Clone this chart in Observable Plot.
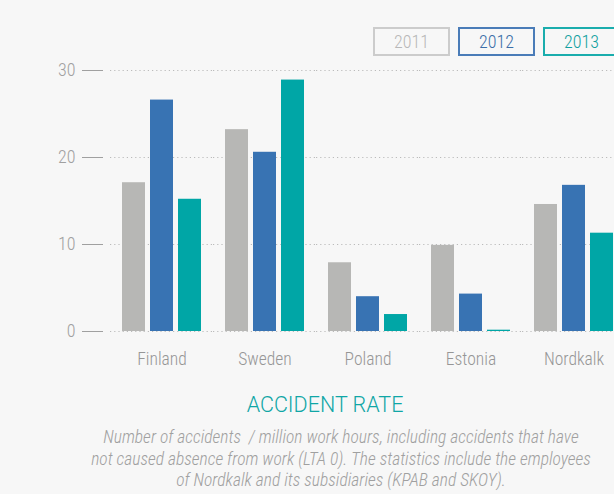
<!DOCTYPE html>
<html>
<head>
<meta charset="utf-8">
<script src="https://cdn.jsdelivr.net/npm/d3@7"></script>
<script src="https://cdn.jsdelivr.net/npm/@observablehq/plot@0.6"></script>
<style>
  html, body { margin: 0; padding: 0; background: #f7f7f7; overflow: hidden; }
  #page { position: relative; width: 614px; height: 494px; overflow: hidden; background: #f7f7f7; }
  #chart { position: absolute; left: 0; top: 0; }
  #chart svg { max-width: none !important; }
  .leg { position: absolute; top: 27px; width: 77px; height: 29px; box-sizing: border-box;
         border: 2px solid; font: 300 18px "Roboto Condensed", sans-serif;
         display: flex; align-items: center; justify-content: center; }
  #title { position: absolute; left: 0; width: 650px; top: 392px; text-align: center;
           font: 300 21.5px "Roboto", sans-serif; color: #10a6a6; }
  #caption { position: absolute; left: 0; width: 682px; top: 427px; text-align: center; white-space: pre;
             font: italic 300 17.5px/21.7px "Roboto Condensed", sans-serif; color: #a0a0a0; }
</style>
</head>
<body>
<div id="page">
  <div id="chart"></div>
  <div id="legend"></div>
  <div id="title"></div>
  <div id="caption"></div>
</div>
<script>
const countries = ["Finland", "Sweden", "Poland", "Estonia", "Nordkalk"];
const years = ["2011", "2012", "2013"];
const v2011 = [17.1, 23.2, 7.9, 9.9, 14.6];
const v2012 = [26.6, 20.6, 4.0, 4.3, 16.8];
const v2013 = [15.2, 28.9, 1.95, 0.15, 11.3];
const barColors = ["#b7b7b5", "#3873b3", "#00a6a6"];
const legendBorder = ["#cccccc", "#4a7cb8", "#1aadad"];
const legendText = ["#b8b8b8", "#3a6ea8", "#10a0a0"];
const yTicks = [0, 10, 20, 30];
const titleText = "ACCIDENT RATE";
const captionLines = [
  "Number of accidents  / million work hours, including accidents that have",
  "not caused absence from work (LTA 0). The statistics include the employees",
  "of Nordkalk and its subsidiaries (KPAB and SKOY)."
];

const series = [v2011, v2012, v2013];
const data = countries.flatMap((c, i) => years.map((y, j) => ({country: c, year: y, value: series[j][i]})));

const chart = Plot.plot({
  width: 625,
  height: 380,
  marginLeft: 110,
  marginRight: 0,
  marginTop: 70,
  marginBottom: 49,
  style: {background: "transparent", fontFamily: "'Roboto Condensed', sans-serif", fontWeight: 300, fontSize: "18px", maxWidth: "none"},
  fx: {domain: countries, padding: 0, label: null},
  x: {domain: years, paddingInner: 0.172, paddingOuter: 0.362, axis: null},
  y: {domain: [0, 30], label: null},
  color: {domain: years, range: barColors},
  marks: [
    Plot.ruleY(yTicks, {stroke: "#bbbbbb", strokeWidth: 1.2, strokeDasharray: "1.2,3"}),
    Plot.barY(data, {fx: "country", x: "year", y: "value", fill: "year"}),
    Plot.axisY({ticks: yTicks, tickSize: 21, tickPadding: 7, dx: -7, color: "#a0a0a0", label: null, fontSize: 18}),
    Plot.axisFx({anchor: "bottom", tickSize: 0, tickPadding: 21, color: "#969696", label: null, fontSize: 17.5})
  ]
});
document.getElementById("chart").appendChild(chart);

const legend = document.getElementById("legend");
years.forEach((y, i) => {
  const d = document.createElement("div");
  d.className = "leg";
  d.style.left = (373 + i * 85) + "px";
  d.style.borderColor = legendBorder[i];
  d.style.color = legendText[i];
  d.textContent = y;
  legend.appendChild(d);
});
document.getElementById("title").textContent = titleText;
document.getElementById("caption").textContent = captionLines.join("\n");
</script>
</body>
</html>
